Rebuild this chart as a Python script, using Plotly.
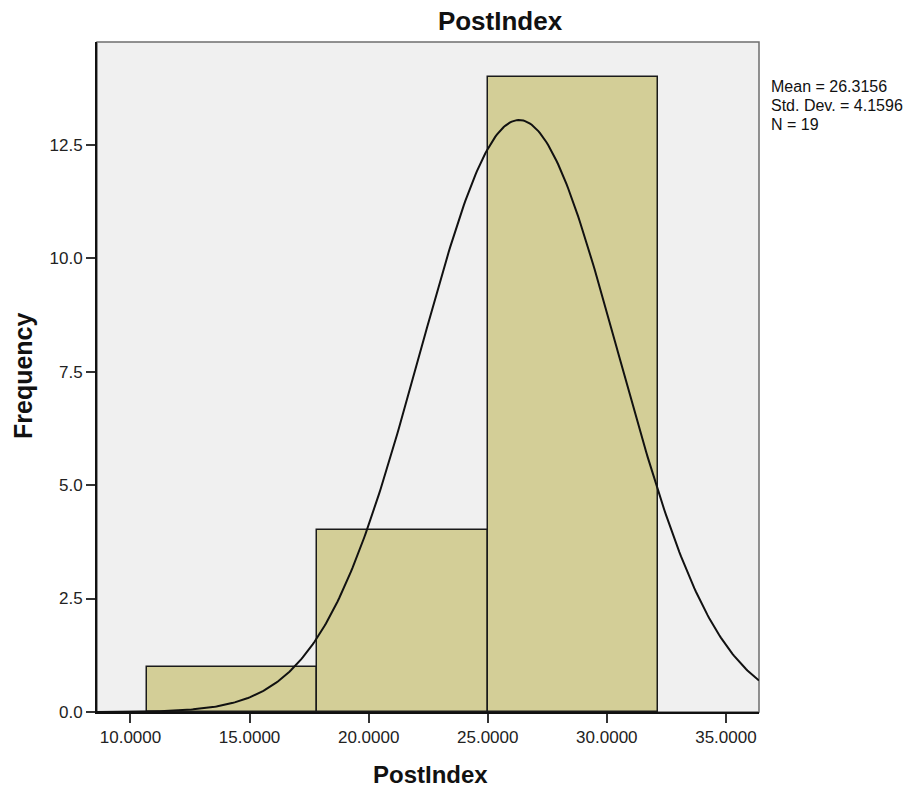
import numpy as np
import plotly.graph_objects as go

# Histogram of PostIndex
bin_edges = [10.686, 17.843, 25.000, 32.157]
counts = [1, 4, 14]
mean_val = 26.3156
std_val = 4.1596
n_obs = 19

x_range = [8.594, 36.39]
y_range = [0, 14.76]
y_ticks = [0.0, 2.5, 5.0, 7.5, 10.0, 12.5]
x_ticks = [10, 15, 20, 25, 30, 35]

W, H = 922, 789
L, R, T, B = 97, 163, 42, 77
pw, ph = W - L - R, H - T - B

def px_x(px):
    return (px - L) / pw

def px_y(py):
    return (H - B - py) / ph

centers = [(a + b) / 2 for a, b in zip(bin_edges[:-1], bin_edges[1:])]
widths = [b - a for a, b in zip(bin_edges[:-1], bin_edges[1:])]
bin_w = widths[0]

# Fitted normal curve scaled to the histogram counts
xs = np.linspace(x_range[0], x_range[1], 400)
ys = n_obs * bin_w * np.exp(-0.5 * ((xs - mean_val) / std_val) ** 2) / (std_val * np.sqrt(2 * np.pi))

font_family = "Liberation Sans, Arial, sans-serif"

fig = go.Figure()
fig.add_trace(go.Bar(
    x=centers, y=counts, width=widths,
    marker=dict(color="#D3CE97", line=dict(color="#1a1a1a", width=1.5)),
    showlegend=False, hoverinfo="skip",
))
fig.add_trace(go.Scatter(
    x=xs, y=ys, mode="lines",
    line=dict(color="#111111", width=2),
    showlegend=False, hoverinfo="skip",
))

# Grey frame around the plotting area
fig.add_shape(type="rect", xref="paper", yref="paper", x0=0, y0=0, x1=1, y1=1,
              line=dict(color="#6e6e6e", width=1.5), layer="below")

fig.update_layout(
    width=W, height=H,
    margin=dict(l=L, r=R, t=T, b=B, pad=0),
    paper_bgcolor="white",
    plot_bgcolor="#F0F0F0",
    bargap=0,
    font=dict(family=font_family, color="#1a1a1a", size=16),
    title=dict(text="<b>PostIndex</b>", xref="container", yref="container",
               x=500 / W, y=1 - 21 / H, xanchor="center", yanchor="middle",
               font=dict(size=26, color="#111111", family=font_family)),
    xaxis=dict(
        range=x_range, tickvals=x_ticks, ticktext=[f"{v:.4f}" for v in x_ticks],
        showgrid=False, zeroline=False,
        showline=True, linecolor="#111111", linewidth=2,
        ticks="outside", ticklen=9, tickwidth=2, tickcolor="#333333",
        tickfont=dict(size=17, color="#222222"),
    ),
    yaxis=dict(
        range=y_range, tickvals=y_ticks, ticktext=[f"{v:.1f}" for v in y_ticks],
        showgrid=False, zeroline=False,
        showline=True, linecolor="#111111", linewidth=2,
        ticks="outside", ticklen=9, tickwidth=2, tickcolor="#333333",
        tickfont=dict(size=17, color="#222222"),
    ),
)

# Axis titles
fig.add_annotation(text="<b>PostIndex</b>", xref="paper", yref="paper",
                   x=px_x(430), y=px_y(774), showarrow=False,
                   xanchor="center", yanchor="middle",
                   font=dict(size=24, color="#111111"))
fig.add_annotation(text="<b>Frequency</b>", xref="paper", yref="paper",
                   x=px_x(23), y=px_y(376), showarrow=False, textangle=-90,
                   xanchor="center", yanchor="middle",
                   font=dict(size=25, color="#111111"))

# Summary statistics
stats_lines = [f"Mean = {mean_val:.4f}", f"Std. Dev. = {std_val:.4f}", f"N = {n_obs}"]
for i, line in enumerate(stats_lines):
    fig.add_annotation(text=line, xref="paper", yref="paper",
                       x=px_x(769), y=px_y(87 + i * 18.5), showarrow=False,
                       xanchor="left", yanchor="middle",
                       font=dict(size=16, color="#111111"))

fig.write_html("out.html")
